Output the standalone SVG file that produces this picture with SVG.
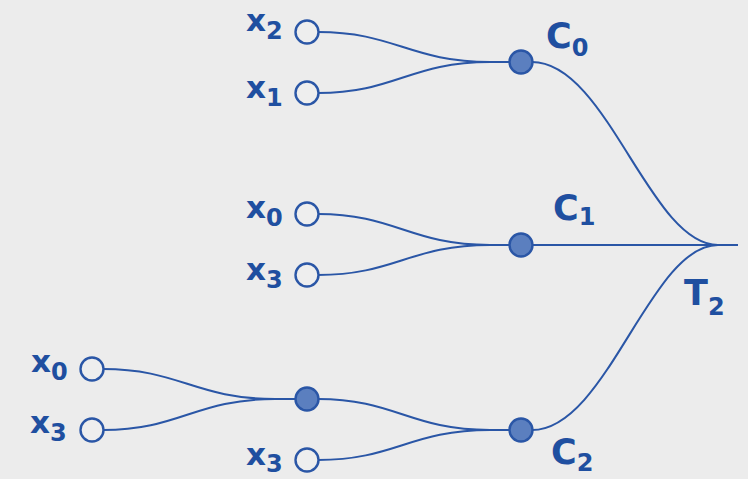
<svg xmlns="http://www.w3.org/2000/svg" width="748" height="479" viewBox="0 0 748 479">
  <style>
    .edge { fill: none; stroke: #2a56a6; stroke-width: 2; }
    .leaf { fill: #eeeeee; stroke: #2a56a6; stroke-width: 2.4; }
    .inner { fill: #5b7fbf; stroke: #2a56a6; stroke-width: 2.4; }
    .lbl { font-family: "DejaVu Sans", sans-serif; font-weight: bold; fill: #1f4fa0; font-size: 31px; }
    .big { font-size: 35px; }
    .sub { font-size: 24px; }
  </style>
  <rect width="748" height="479" fill="#ececec"/>

  <g id="connectors">
    <path class="edge" d="M318,32 C395,32 410,62 490,62 L510,62"/>
    <path class="edge" d="M318,93 C395,93 410,62 490,62 L510,62"/>
    <path class="edge" d="M318,214 C395,214 410,245 490,245 L510,245"/>
    <path class="edge" d="M318,275 C395,275 410,245 490,245 L510,245"/>
    <path class="edge" d="M103,369 C180,369 195,399 275,399 L296,399"/>
    <path class="edge" d="M103,430 C180,430 195,399 275,399 L296,399"/>
    <path class="edge" d="M318,399 C395,399 410,430 490,430 L510,430"/>
    <path class="edge" d="M318,460 C395,460 410,430 490,430 L510,430"/>
    <path class="edge" d="M532,62 C607,62 650,245 718,245"/>
    <path class="edge" d="M532,245 L738,245"/>
    <path class="edge" d="M532,430 C607,430 650,245 718,245"/>
  </g>

  <g id="x2a"><circle class="leaf" cx="307" cy="32" r="11.5"/>
    <text class="lbl" x="246" y="31">x<tspan class="sub" dy="8">2</tspan></text></g>
  <g id="x1a"><circle class="leaf" cx="307" cy="93" r="11.5"/>
    <text class="lbl" x="246" y="98">x<tspan class="sub" dy="8">1</tspan></text></g>
  <g id="x0a"><circle class="leaf" cx="307" cy="214" r="11.5"/>
    <text class="lbl" x="246" y="218">x<tspan class="sub" dy="8">0</tspan></text></g>
  <g id="x3a"><circle class="leaf" cx="307" cy="275" r="11.5"/>
    <text class="lbl" x="246" y="280">x<tspan class="sub" dy="8">3</tspan></text></g>
  <g id="x0b"><circle class="leaf" cx="92" cy="369" r="11.5"/>
    <text class="lbl" x="31" y="372">x<tspan class="sub" dy="8">0</tspan></text></g>
  <g id="x3b"><circle class="leaf" cx="92" cy="430" r="11.5"/>
    <text class="lbl" x="30" y="433">x<tspan class="sub" dy="8">3</tspan></text></g>
  <g id="x3c"><circle class="leaf" cx="307" cy="460" r="11.5"/>
    <text class="lbl" x="246" y="465">x<tspan class="sub" dy="7">3</tspan></text></g>

  <g id="C0"><circle class="inner" cx="521" cy="62" r="11.5"/>
    <text class="lbl big" x="546" y="48">C<tspan class="sub" dy="8">0</tspan></text></g>
  <g id="C1"><circle class="inner" cx="521" cy="245" r="11.5"/>
    <text class="lbl big" x="553" y="220">C<tspan class="sub" dy="5">1</tspan></text></g>
  <g id="M"><circle class="inner" cx="307" cy="399" r="11.5"/></g>
  <g id="C2"><circle class="inner" cx="521" cy="430" r="11.5"/>
    <text class="lbl big" x="551" y="464">C<tspan class="sub" dy="7">2</tspan></text></g>
  <g id="T2">
    <text class="lbl big" x="684" y="305">T<tspan class="sub" dy="10">2</tspan></text></g>
</svg>
